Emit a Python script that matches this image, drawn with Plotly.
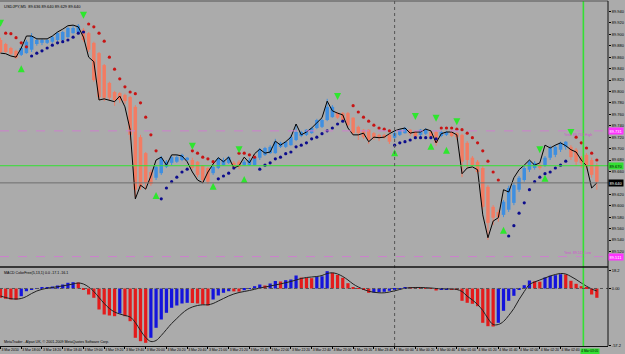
import plotly.graph_objects as go

# ---------------- data ----------------
x_tick_pos = [0, 4, 8, 12, 16, 20, 24, 28, 32, 36, 40, 44, 48, 52, 56, 60, 64, 68, 72,
              76, 80, 84, 88, 92, 96, 100, 104, 108]
x_tick_labels = ["3 Mar 2010", "3 Mar 18:00", "3 Mar 18:20", "3 Mar 18:40", "3 Mar 19:00",
                 "3 Mar 19:20", "3 Mar 19:40", "3 Mar 20:00", "3 Mar 20:20", "3 Mar 20:40",
                 "3 Mar 21:00", "3 Mar 21:20", "3 Mar 21:40", "3 Mar 22:00", "3 Mar 22:20",
                 "3 Mar 22:40", "3 Mar 23:00", "3 Mar 23:20", "3 Mar 23:40", "4 Mar 00:00",
                 "4 Mar 00:20", "4 Mar 00:40", "4 Mar 01:00", "4 Mar 01:20", "4 Mar 01:40",
                 "4 Mar 02:00", "4 Mar 02:20", "4 Mar 02:40"]
cross_time_label = "4 Mar 03:05"

price_ticks = [89.94, 89.92, 89.90, 89.88, 89.86, 89.84, 89.82, 89.80, 89.78, 89.76, 89.74,
               89.72, 89.70, 89.68, 89.66, 89.62, 89.60, 89.58, 89.56, 89.54, 89.52]

ha_open = [89.890, 89.883, 89.876, 89.871, 89.864, 89.867, 89.873, 89.883, 89.885, 89.885,
           89.887, 89.890, 89.890, 89.895, 89.902, 89.904, 89.908, 89.902, 89.885, 89.867,
           89.846, 89.815, 89.799, 89.797, 89.794, 89.790, 89.773, 89.720, 89.692, 89.659,
           89.649, 89.657, 89.668, 89.675, 89.677, 89.680, 89.680, 89.680, 89.677, 89.670,
           89.666, 89.657, 89.666, 89.671, 89.675, 89.675, 89.677, 89.671, 89.671, 89.671,
           89.684, 89.689, 89.692, 89.692, 89.703, 89.703, 89.706, 89.715, 89.722, 89.724,
           89.727, 89.736, 89.738, 89.750, 89.755, 89.762, 89.762, 89.762, 89.754, 89.738,
           89.733, 89.733, 89.727, 89.724, 89.724, 89.724, 89.719, 89.724, 89.727, 89.733,
           89.729, 89.724, 89.726, 89.729, 89.729, 89.722, 89.724, 89.729, 89.727, 89.724,
           89.710, 89.684, 89.677, 89.666, 89.633, 89.598, 89.589, 89.584, 89.593, 89.605,
           89.628, 89.645, 89.663, 89.666, 89.671, 89.671, 89.684, 89.689, 89.698, 89.703,
           89.703, 89.698, 89.684, 89.689, 89.680, 89.671]
ha_close = [89.869, 89.869, 89.866, 89.859, 89.876, 89.887, 89.897, 89.890, 89.890, 89.890,
            89.895, 89.902, 89.904, 89.911, 89.911, 89.915, 89.890, 89.873, 89.820, 89.790,
            89.789, 89.789, 89.785, 89.785, 89.783, 89.724, 89.628, 89.633, 89.640, 89.638,
            89.668, 89.684, 89.677, 89.685, 89.685, 89.689, 89.684, 89.666, 89.654, 89.645,
            89.642, 89.668, 89.682, 89.680, 89.685, 89.666, 89.668, 89.677, 89.680, 89.685,
            89.698, 89.701, 89.703, 89.712, 89.710, 89.712, 89.720, 89.729, 89.729, 89.733,
            89.736, 89.750, 89.750, 89.773, 89.773, 89.754, 89.750, 89.741, 89.727, 89.727,
            89.720, 89.715, 89.719, 89.719, 89.719, 89.712, 89.727, 89.733, 89.736, 89.726,
            89.720, 89.733, 89.733, 89.720, 89.710, 89.729, 89.729, 89.722, 89.720, 89.677,
            89.680, 89.671, 89.659, 89.598, 89.570, 89.579, 89.580, 89.607, 89.631, 89.636,
            89.649, 89.666, 89.677, 89.675, 89.666, 89.684, 89.701, 89.703, 89.710, 89.712,
            89.685, 89.677, 89.675, 89.668, 89.654, 89.642]
ha_high = [89.894, 89.885, 89.878, 89.873, 89.878, 89.890, 89.902, 89.894, 89.892, 89.892,
           89.897, 89.904, 89.906, 89.913, 89.915, 89.918, 89.911, 89.904, 89.887, 89.869,
           89.848, 89.817, 89.801, 89.799, 89.796, 89.792, 89.776, 89.724, 89.694, 89.663,
           89.671, 89.687, 89.680, 89.687, 89.689, 89.691, 89.685, 89.684, 89.678, 89.671,
           89.668, 89.671, 89.685, 89.684, 89.687, 89.678, 89.680, 89.680, 89.684, 89.687,
           89.701, 89.703, 89.706, 89.717, 89.712, 89.713, 89.724, 89.743, 89.731, 89.734,
           89.738, 89.752, 89.752, 89.787, 89.776, 89.764, 89.764, 89.764, 89.755, 89.740,
           89.734, 89.734, 89.729, 89.726, 89.726, 89.726, 89.731, 89.734, 89.738, 89.734,
           89.731, 89.734, 89.736, 89.731, 89.731, 89.731, 89.731, 89.731, 89.729, 89.726,
           89.713, 89.687, 89.680, 89.670, 89.636, 89.601, 89.593, 89.610, 89.635, 89.640,
           89.652, 89.670, 89.680, 89.678, 89.675, 89.687, 89.705, 89.706, 89.712, 89.713,
           89.706, 89.701, 89.687, 89.692, 89.684, 89.675]
ha_low = [89.867, 89.867, 89.864, 89.857, 89.862, 89.866, 89.869, 89.880, 89.881, 89.883,
          89.885, 89.888, 89.888, 89.894, 89.901, 89.902, 89.887, 89.869, 89.817, 89.785,
          89.783, 89.785, 89.775, 89.780, 89.778, 89.715, 89.615, 89.628, 89.628, 89.635,
          89.645, 89.654, 89.666, 89.671, 89.675, 89.678, 89.678, 89.663, 89.650, 89.640,
          89.638, 89.654, 89.664, 89.670, 89.673, 89.663, 89.664, 89.670, 89.670, 89.670,
          89.680, 89.687, 89.691, 89.691, 89.701, 89.701, 89.705, 89.713, 89.720, 89.722,
          89.726, 89.734, 89.736, 89.748, 89.754, 89.752, 89.748, 89.738, 89.724, 89.715,
          89.717, 89.708, 89.715, 89.713, 89.717, 89.708, 89.717, 89.722, 89.726, 89.722,
          89.719, 89.722, 89.724, 89.717, 89.705, 89.720, 89.722, 89.720, 89.715, 89.650,
          89.666, 89.668, 89.656, 89.593, 89.540, 89.566, 89.572, 89.580, 89.589, 89.601,
          89.624, 89.642, 89.659, 89.663, 89.663, 89.668, 89.680, 89.685, 89.694, 89.698,
          89.680, 89.671, 89.666, 89.663, 89.649, 89.628]
close_price = [89.867, 89.866, 89.862, 89.860, 89.876, 89.897, 89.897, 89.892, 89.892, 89.892,
               89.897, 89.904, 89.909, 89.915, 89.916, 89.913, 89.895, 89.860, 89.852, 89.785,
               89.787, 89.785, 89.782, 89.792, 89.773, 89.733, 89.612, 89.636, 89.629, 89.652,
               89.680, 89.685, 89.671, 89.689, 89.689, 89.687, 89.677, 89.659, 89.645, 89.640,
               89.659, 89.673, 89.684, 89.677, 89.685, 89.666, 89.670, 89.685, 89.675, 89.691,
               89.699, 89.692, 89.694, 89.713, 89.706, 89.712, 89.720, 89.743, 89.724, 89.729,
               89.736, 89.745, 89.754, 89.783, 89.766, 89.762, 89.759, 89.736, 89.724, 89.724,
               89.727, 89.712, 89.720, 89.719, 89.720, 89.726, 89.731, 89.734, 89.736, 89.727,
               89.729, 89.729, 89.734, 89.731, 89.710, 89.726, 89.729, 89.729, 89.724, 89.656,
               89.666, 89.668, 89.663, 89.584, 89.544, 89.573, 89.579, 89.628, 89.624, 89.649,
               89.663, 89.671, 89.680, 89.671, 89.675, 89.706, 89.701, 89.706, 89.710, 89.705,
               89.698, 89.694, 89.680, 89.670, 89.631, 89.640]

sar_dn_idx = [1, 2, 3, 4, 5, 17, 18, 19, 20, 21, 22, 23, 24, 25, 26, 27, 28, 29, 30,
              37, 38, 39, 40, 41, 46, 47, 48, 49, 68, 69, 70, 71, 72, 73, 74, 75,
              85, 86, 87, 88, 89, 90, 91, 92, 93, 94, 95, 96, 111, 112, 113, 114, 115]
sar_dn = [89.902, 89.901, 89.894, 89.885, 89.878, 89.918, 89.913, 89.902, 89.888, 89.860,
          89.839, 89.822, 89.808, 89.799, 89.796, 89.780, 89.755, 89.724, 89.696,
          89.696, 89.692, 89.685, 89.682, 89.677, 89.692, 89.692, 89.689, 89.685,
          89.775, 89.764, 89.755, 89.748, 89.741, 89.736, 89.734, 89.731,
          89.736, 89.736, 89.736, 89.734, 89.733, 89.727, 89.719, 89.710, 89.696, 89.678,
          89.659, 89.645, 89.720, 89.710, 89.701, 89.692, 89.680]
sar_up_idx = [6, 7, 8, 9, 10, 11, 12, 13, 14, 15, 16, 31, 32, 33, 34, 35, 36, 42, 43, 44, 45,
              50, 51, 52, 53, 54, 55, 56, 57, 58, 59, 60, 61, 62, 63, 64, 65, 66,
              76, 77, 78, 79, 80, 81, 82, 83, 84, 98, 99, 100, 101, 102, 103, 104, 105,
              106, 107, 108, 109]
sar_up = [89.862, 89.867, 89.871, 89.876, 89.881, 89.885, 89.887, 89.890, 89.895, 89.902,
          89.904, 89.612, 89.631, 89.642, 89.650, 89.659, 89.664, 89.647, 89.652, 89.657,
          89.666, 89.664, 89.671, 89.675, 89.682, 89.685, 89.691, 89.694, 89.703, 89.706,
          89.710, 89.717, 89.720, 89.726, 89.731, 89.736, 89.743, 89.748,
          89.706, 89.710, 89.712, 89.715, 89.719, 89.719, 89.719, 89.719, 89.717,
          89.547, 89.565, 89.587, 89.605, 89.628, 89.642, 89.650, 89.656, 89.659, 89.666,
          89.671, 89.678]

arrow_up_idx = [4, 30, 41, 47, 76, 83, 86, 97, 105]
arrow_up = [89.846, 89.624, 89.640, 89.652, 89.699, 89.710, 89.703, 89.563, 89.654]
arrow_dn_idx = [0, 16, 37, 46, 65, 80, 84, 88, 104, 110]
arrow_dn = [89.913, 89.927, 89.698, 89.692, 89.785, 89.750, 89.747, 89.741, 89.692, 89.722]

macd_hist = [-9.3, -10.3, -11.0, -11.2, -7.7, -2.7, -1.0, 0.5, 1.0, 1.5,
             2.0, 3.0, 4.0, 5.7, 6.3, 6.0, -1.0, -6.0, -9.3, -21.0,
             -26.0, -27.0, -27.7, -25.0, -27.7, -32.7, -49.3, -52.7, -54.3, -49.3,
             -39.3, -31.0, -24.3, -19.3, -17.0, -15.0, -14.3, -14.5, -15.0, -16.0,
             -17.0, -11.0, -7.0, -4.3, -2.7, -2.9, -3.1, -1.7, -0.5, 2.3,
             4.0, 3.0, 5.0, 7.5, 7.0, 8.3, 9.0, 13.0, 10.9, 10.6,
             10.3, 11.5, 12.2, 17.3, 15.7, 13.5, 10.7, 5.3, 1.0, 0.3,
             -1.0, -4.3, -4.0, -3.7, -3.3, -2.3, -1.0, 0.3, 1.5, 1.2,
             0.8, 0.6, 0.4, 0.2, -2.0, -1.2, -0.8, -0.9, -1.5, -12.3,
             -14.3, -15.3, -17.7, -34.3, -37.7, -38.0, -34.3, -22.3, -12.3, -7.3,
             -1.3, 3.3, 8.0, 7.2, 6.8, 11.0, 12.7, 13.3, 14.3, 14.0,
             7.7, 4.7, 2.3, 1.0, -6.0, -9.3]
macd_signal = [-7.5, -9.0, -10.2, -10.5, -10.0, -8.0, -5.0, -2.5, -0.8, 0.3,
               1.0, 1.8, 2.6, 3.5, 4.5, 5.5, 4.5, 1.5, -3.0, -9.0,
               -15.0, -20.0, -23.5, -25.5, -27.0, -28.5, -34.0, -42.0, -49.0, -53.0,
               -52.0, -47.0, -41.0, -35.0, -30.0, -25.0, -21.0, -18.5, -17.0, -16.3,
               -16.3, -15.0, -12.5, -10.0, -7.5, -5.5, -4.0, -3.0, -2.0, -0.8,
               0.5, 1.5, 2.5, 3.5, 4.6, 5.8, 7.0, 8.5, 10.0, 11.0,
               11.5, 12.0, 13.0, 15.0, 15.7, 14.5, 12.0, 8.5, 4.5, 1.5,
               -1.0, -2.7, -3.8, -4.3, -4.3, -3.5, -2.3, -1.0, 0.3, 0.8,
               1.0, 1.0, 0.8, 0.5, 0.0, -0.3, -0.4, -0.5, -1.0, -3.0,
               -7.7, -11.5, -16.0, -22.0, -30.0, -36.0, -36.0, -33.0, -27.0, -20.0,
               -11.0, -3.0, 4.0, 6.5, 8.5, 10.5, 12.5, 14.0, 15.0, 14.5,
               12.0, 9.0, 5.5, 2.3, -0.5, -2.5]

macd_ticks = [18.2, 0.0, -57.2]
macd_tick_text = ["18.2", "0.00", "-57.2"]

line_high = 89.731   # pink dashed upper level
line_low = 89.511    # pink dashed lower level
cross_price = 89.670 # crosshair horizontal
bid_price = 89.640
cross_bar = 112.4
day_sep_bar = 76

# ---------------- styling ----------------
BG = "#ABABAB"
BLUE = "#3F8FE0"
SALMON = "#F27C63"
FONT = "Liberation Sans"

n = len(ha_open)
idx = list(range(n))
bull = [ha_close[i] >= ha_open[i] for i in idx]

fig = go.Figure()

# wicks
for flag, col in ((True, BLUE), (False, SALMON)):
    xs, ys = [], []
    for i in idx:
        if bull[i] == flag:
            xs += [i, i, None]
            ys += [ha_high[i], ha_low[i], None]
    fig.add_trace(go.Scatter(x=xs, y=ys, mode="lines", line=dict(color=col, width=1),
                             hoverinfo="skip", showlegend=False))

# bodies
base = [min(ha_open[i], ha_close[i]) for i in idx]
height = [max(abs(ha_close[i] - ha_open[i]), 0.0018) for i in idx]
fig.add_trace(go.Bar(x=idx, y=height, base=base, width=0.68,
                     marker=dict(color=[BLUE if b else SALMON for b in bull], line=dict(width=0)),
                     showlegend=False))

# close line
fig.add_trace(go.Scatter(x=idx, y=close_price, mode="lines",
                         line=dict(color="#000000", width=1), showlegend=False))

# parabolic SAR
fig.add_trace(go.Scatter(x=sar_dn_idx, y=sar_dn, mode="markers",
                         marker=dict(color="#C81414", size=3.2), showlegend=False))
fig.add_trace(go.Scatter(x=sar_up_idx, y=sar_up, mode="markers",
                         marker=dict(color="#0C0C8C", size=3.2), showlegend=False))

# arrows
fig.add_trace(go.Scatter(x=arrow_up_idx, y=arrow_up, mode="markers",
                         marker=dict(symbol="arrow-up", color="#2EE62E", size=7,
                                     line=dict(width=0)), showlegend=False))
fig.add_trace(go.Scatter(x=arrow_dn_idx, y=arrow_dn, mode="markers",
                         marker=dict(symbol="arrow-down", color="#2EE62E", size=7,
                                     line=dict(width=0)), showlegend=False))

# MACD histogram
hist_col = []
for i in idx:
    prev = macd_hist[i - 1] if i > 0 else macd_hist[i] + 1
    hist_col.append("#1414DC" if macd_hist[i] > prev else "#E41B1B")
fig.add_trace(go.Bar(x=idx, y=macd_hist, width=0.62, yaxis="y2",
                     marker=dict(color=hist_col, line=dict(width=0)), showlegend=False))
fig.add_trace(go.Scatter(x=idx, y=macd_signal, mode="lines", yaxis="y2",
                         line=dict(color="#202020", width=1, shape="spline"), showlegend=False))

# ---------------- layout ----------------
shapes = [
    dict(type="line", xref="paper", yref="y", x0=0, x1=1, y0=line_high, y1=line_high,
         line=dict(color="#CC80CC", width=1, dash="dash")),
    dict(type="line", xref="paper", yref="y", x0=0, x1=1, y0=line_low, y1=line_low,
         line=dict(color="#CC80CC", width=1, dash="dash")),
    dict(type="line", xref="paper", yref="y", x0=0, x1=1, y0=bid_price, y1=bid_price,
         line=dict(color="#6E6E6E", width=1)),
    dict(type="line", xref="paper", yref="y", x0=0, x1=1, y0=cross_price, y1=cross_price,
         line=dict(color="#33E033", width=1)),
    dict(type="line", xref="x", yref="paper", x0=cross_bar, x1=cross_bar, y0=0, y1=1,
         line=dict(color="#33E033", width=1.6)),
    dict(type="line", xref="x", yref="paper", x0=day_sep_bar, x1=day_sep_bar, y0=0, y1=1,
         line=dict(color="#555555", width=1, dash="dot")),
    dict(type="line", xref="paper", yref="y2", x0=0, x1=1, y0=0, y1=0,
         line=dict(color="#555555", width=1, dash="dot")),
    dict(type="line", xref="paper", yref="paper", x0=0, x1=1, y0=0.2290, y1=0.2290,
         line=dict(color="#111111", width=1.5)),
    dict(type="line", xref="paper", yref="paper", x0=0, x1=1, y0=1, y1=1,
         line=dict(color="#555555", width=1)),
    dict(type="line", xref="paper", yref="paper", x0=1, x1=1, y0=0, y1=1,
         line=dict(color="#111111", width=1)),
]

annotations = [
    dict(xref="paper", yref="paper", x=0.004, y=0.998, xanchor="left", yanchor="top",
         text="USDJPY,M5  89.636 89.640 89.629 89.640", showarrow=False,
         font=dict(family=FONT, size=4, color="#000000")),
    dict(xref="paper", yref="paper", x=0.004, y=0.2225, xanchor="left", yanchor="top",
         text="MACD ColorFree(5,13,1) 0.0 -17.1 -16.1", showarrow=False,
         font=dict(family=FONT, size=3.6, color="#000000")),
    dict(xref="paper", yref="paper", x=0.004, y=0.022, xanchor="left", yanchor="top",
         text="MetaTrader - Alpari UK, © 2001-2009 MetaQuotes Software Corp.", showarrow=False,
         font=dict(family=FONT, size=3.6, color="#000000")),
    dict(xref="x", yref="y", x=108.2, y=line_high, xanchor="left", yanchor="top",
         text="Yest. 89.731 High", showarrow=False,
         font=dict(family=FONT, size=3.6, color="#D050D0")),
    dict(xref="x", yref="y", x=108.2, y=line_low, xanchor="left", yanchor="bottom",
         text="Yest. 89.511 Low", showarrow=False,
         font=dict(family=FONT, size=3.6, color="#D050D0")),
]
for val, bg, fg in ((line_high, "#FF33FF", "#FFFFFF"), (line_low, "#FF33FF", "#FFFFFF"),
                    (cross_price, "#33E033", "#000000"), (bid_price, "#000000", "#FFFFFF")):
    annotations.append(dict(xref="paper", yref="y", x=1.0, y=val, xanchor="left",
                            yanchor="middle", text=f"{val:.3f}", showarrow=False,
                            bgcolor=bg, borderpad=0.5,
                            font=dict(family=FONT, size=4, color=fg)))
annotations.append(dict(xref="x", yref="paper", x=113.6, y=-0.0155, xanchor="center",
                        yanchor="middle", text=cross_time_label, showarrow=False,
                        bgcolor="#33E033", borderpad=0.3,
                        font=dict(family=FONT, size=3.2, color="#000000")))

fig.update_layout(
    width=625, height=354,
    margin=dict(l=0, r=13, t=1, b=8),
    paper_bgcolor=BG, plot_bgcolor=BG,
    barmode="overlay", showlegend=False,
    xaxis=dict(domain=[0, 1], range=[-0.096, 117.15], anchor="y2",
               tickvals=x_tick_pos, ticktext=x_tick_labels, ticklabelposition="outside right",
               tickangle=0,
               tickfont=dict(family=FONT, size=3.4, color="#000000"),
               ticks="outside", ticklen=2, tickcolor="#000000",
               showgrid=False, zeroline=False, showline=True, linecolor="#111111", linewidth=1),
    yaxis=dict(domain=[0.23188, 1], range=[89.4945, 89.95825], side="right", anchor="x",
               tickvals=price_ticks, ticktext=[f"{v:.3f}" for v in price_ticks],
               tickfont=dict(family=FONT, size=4, color="#000000"),
               ticks="outside", ticklen=2, tickcolor="#000000",
               showgrid=False, zeroline=False),
    yaxis2=dict(domain=[0, 0.22609], range=[-57.5, 20.5], side="right", anchor="x",
                tickvals=macd_ticks, ticktext=macd_tick_text,
                tickfont=dict(family=FONT, size=4, color="#000000"),
                ticks="outside", ticklen=2, tickcolor="#000000",
                showgrid=False, zeroline=False),
    shapes=shapes, annotations=annotations,
)

fig.write_html("out.html", config={"displayModeBar": False})
